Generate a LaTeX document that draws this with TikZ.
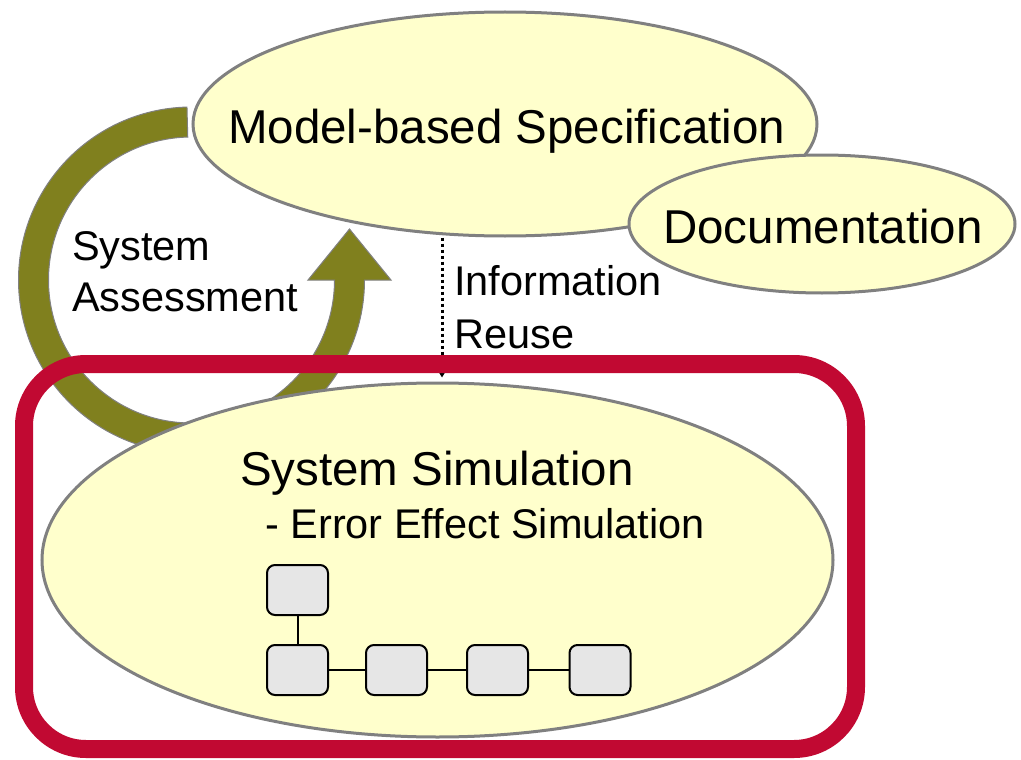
\documentclass[tikz,border=0pt]{standalone}
\usepackage{fontspec}
\setmainfont{Liberation Sans}
\usetikzlibrary{shapes.geometric,arrows.meta,calc}
\definecolor{loopolive}{RGB}{128,128,30}
\definecolor{framered}{RGB}{193,9,50}
\definecolor{paleyellow}{RGB}{255,255,204}
\definecolor{boxgray}{RGB}{230,230,230}
\definecolor{rimgray}{RGB}{128,128,128}

\begin{document}
\begin{tikzpicture}[x=1pt,y=-1pt,
  bubble/.style={ellipse, draw=rimgray, line width=3pt, fill=paleyellow, inner sep=0pt},
  bigtext/.style={anchor=base west, inner sep=0pt, font=\fontsize{47.5}{56}\selectfont},
  smalltext/.style={anchor=base west, inner sep=0pt, font=\fontsize{41.5}{52}\selectfont},
  block/.style={draw=black, line width=2pt, fill=boxgray, rounded corners=8pt,
    minimum width=61pt, minimum height=50pt, inner sep=0pt},
  link/.style={draw=black, line width=2pt},
  reuse/.style={draw=black, line width=3pt, dash pattern=on 3pt off 3pt,
    -{Triangle[length=7pt,width=8pt]}}]
\useasboundingbox (0,0) rectangle (1021,760);

% olive assessment loop with its arrow head
\path[fill=loopolive, draw=rimgray, line width=1pt]
  (191.5,280) ++(268.5:173) arc[start angle=268.5, end angle=0, radius=173]
  -- (391,280) -- (349.5,229) -- (308,280) -- (334.5,280)
  arc[start angle=0, end angle=268.5, radius=143] -- cycle;

% specification and documentation bubbles
\node[bubble, minimum width=624pt, minimum height=224pt] (ms) at (505,124) {};
\node[bubble, minimum width=386pt, minimum height=138pt] (doc) at (822,224) {};
\node[bigtext] (mstext) at (228,143) {Model-based Specification};
\node[bigtext] (doctext) at (663,243) {Documentation};

% labels beside the loop and the reuse arrow
\node[smalltext] (sa1) at (72,260) {System};
\node[smalltext] (sa2) at (72,311) {Assessment};
\node[smalltext] (ir1) at (454,295) {Information};
\node[smalltext] (ir2) at (454,348) {Reuse};

% simulation bubble
\node[bubble, minimum width=791pt, minimum height=354pt] (ss) at (437.5,560) {};

% information reuse arrow
\draw[reuse] ($(ms.south -| ss.north)+(4.5,0)$) -- ($(ss.north)+(4.5,-4)$);

\node[bigtext] (sstext) at (240,485) {System Simulation};
\node[smalltext] (eetext) at (265,538) {- Error Effect Simulation};

% component chain
\node[block] (b0) at (297.5,590) {};
\node[block] (b1) at (297.5,670) {};
\node[block] (b2) at (396.5,670) {};
\node[block] (b3) at (497.5,670) {};
\node[block] (b4) at (600,670) {};
\draw[link] (b0) -- (b1);
\draw[link] (b1) -- (b2);
\draw[link] (b2) -- (b3);
\draw[link] (b3) -- (b4);

% highlight frame
\node[draw=framered, line width=18pt, rounded corners=62pt,
  minimum width=832pt, minimum height=385pt, inner sep=0pt] (frame) at (440,556.5) {};
\end{tikzpicture}
\end{document}
